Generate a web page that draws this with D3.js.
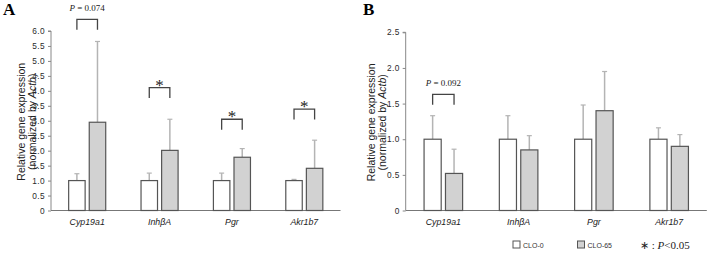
<!DOCTYPE html>
<html>
<head>
<meta charset="utf-8">
<script src="https://cdn.jsdelivr.net/npm/d3@7"></script>
<style>
  body { margin: 0; background: #fff; }
  svg { display: block; }
</style>
</head>
<body>
<div id="chart"></div>
<script>
// categories and series
const genes = ["Cyp19a1", "InhβA", "Pgr", "Akr1b7"];
const groups = ["CLO-0", "CLO-65"];

// panel A (means and SD)
const aClo0 = [1.0, 1.0, 1.0, 1.0];
const aClo0Sd = [0.23, 0.25, 0.25, 0.04];
const aClo65 = [2.95, 2.01, 1.78, 1.41];
const aClo65Sd = [2.70, 1.04, 0.29, 0.94];
const aTicks = [0, 0.5, 1, 1.5, 2, 2.5, 3, 3.5, 4, 4.5, 5, 5.5, 6];
const aBracketY = [6.39, 4.11, 3.05, 3.39];
const aBracketText = ["P = 0.074", "*", "*", "*"];

// panel B
const bClo0 = [1.0, 1.0, 1.0, 1.0];
const bClo0Sd = [0.33, 0.33, 0.48, 0.16];
const bClo65 = [0.52, 0.85, 1.40, 0.90];
const bClo65Sd = [0.34, 0.20, 0.55, 0.165];
const bTicks = [0, 0.5, 1, 1.5, 2, 2.5];
const bBracketY = [1.63, null, null, null];
const bBracketText = ["P = 0.092", null, null, null];

const W = 708, H = 257;
const svg = d3.select("#chart").append("svg")
    .attr("width", W).attr("height", H);

const fills = { "CLO-0": "#ffffff", "CLO-65": "#d2d2d2" };

function drawPanel(opt) {
    const g = svg.append("g");

    const x = d3.scaleBand().domain(genes).range([opt.x0, opt.x1]);
    const groupW = x.bandwidth() * 0.512;
    const xi = d3.scaleBand().domain(groups)
        .range([(x.bandwidth() - groupW) / 2, (x.bandwidth() + groupW) / 2])
        .paddingInner(0.2);
    const y = d3.scaleLinear().domain([0, opt.yMax]).range([opt.yBottom, opt.yTop]);

    // panel letter
    g.append("text")
        .attr("x", opt.letterX).attr("y", 15)
        .style("font-family", "Liberation Serif, Times New Roman, serif")
        .style("font-weight", "bold")
        .style("font-size", "17px")
        .text(opt.letter);

    // y axis
    const yAxis = g.append("g")
        .attr("transform", `translate(${opt.x0},0)`)
        .call(d3.axisLeft(y).tickValues(opt.ticks).tickSize(3).tickPadding(3)
            .tickFormat(d => d === 0 ? "0" : d3.format(".1f")(d)));
    yAxis.select(".domain").attr("stroke", "#888").attr("d", `M-3,${opt.yTop}H0V${opt.yBottom}`);
    yAxis.selectAll(".tick line").attr("stroke", "#888");
    yAxis.selectAll(".tick text")
        .attr("fill", "#2a2a2a")
        .style("font-family", "Liberation Sans, Arial, sans-serif")
        .style("font-size", "8.3px")
        .style("letter-spacing", "0.4px");

    // y label
    const lab = g.append("text")
        .attr("transform", `translate(${opt.labelX},${(opt.yTop + opt.yBottom) / 2 + 1}) rotate(-90)`)
        .attr("text-anchor", "middle")
        .style("font-family", "Liberation Sans, Arial, sans-serif")
        .style("font-size", "10.5px")
        .attr("fill", "#222");
    lab.append("tspan").attr("x", 0).attr("dy", 0).text("Relative gene expression");
    const l2 = lab.append("tspan").attr("x", 0).attr("dy", 11.2);
    l2.append("tspan").text("(normalized by ");
    l2.append("tspan").style("font-style", "italic").text("Actb");
    l2.append("tspan").text(")");

    // x axis baseline
    g.append("line")
        .attr("x1", opt.x0).attr("x2", opt.x1)
        .attr("y1", y(0)).attr("y2", y(0))
        .attr("stroke", "#777").attr("stroke-width", 1);

    // bars
    const rows = [];
    genes.forEach((gene, i) => {
        rows.push({ gene, grp: "CLO-0", v: opt.c0[i], sd: opt.c0sd[i] });
        rows.push({ gene, grp: "CLO-65", v: opt.c65[i], sd: opt.c65sd[i] });
    });

    const bx = d => x(d.gene) + xi(d.grp);

    // error bars (upper only)
    g.selectAll(".err").data(rows).join("line")
        .attr("x1", d => bx(d) + xi.bandwidth() / 2)
        .attr("x2", d => bx(d) + xi.bandwidth() / 2)
        .attr("y1", d => y(d.v))
        .attr("y2", d => y(d.v + d.sd))
        .attr("stroke", "#b4b4b4").attr("stroke-width", 1.5);
    g.selectAll(".cap").data(rows).join("line")
        .attr("x1", d => bx(d) + xi.bandwidth() / 2 - 2.5)
        .attr("x2", d => bx(d) + xi.bandwidth() / 2 + 2.5)
        .attr("y1", d => y(d.v + d.sd))
        .attr("y2", d => y(d.v + d.sd))
        .attr("stroke", "#b4b4b4").attr("stroke-width", 1.2);

    g.selectAll(".bar").data(rows).join("rect")
        .attr("x", d => bx(d))
        .attr("y", d => y(d.v))
        .attr("width", xi.bandwidth())
        .attr("height", d => y(0) - y(d.v))
        .attr("fill", d => fills[d.grp])
        .attr("stroke", "#555").attr("stroke-width", 1.2);

    // category labels
    g.selectAll(".cat").data(genes).join("text")
        .attr("x", d => x(d) + x.bandwidth() / 2)
        .attr("y", y(0) + 14)
        .attr("text-anchor", "middle")
        .style("font-family", "Liberation Sans, Arial, sans-serif")
        .style("font-style", "italic")
        .style("font-size", "8.8px")
        .attr("fill", "#222")
        .text(d => d);

    // significance brackets
    genes.forEach((gene, i) => {
        if (opt.bracketY[i] == null) return;
        const xa = x(gene) + xi("CLO-0") + xi.bandwidth() / 2;
        const xb = x(gene) + xi("CLO-65") + xi.bandwidth() / 2;
        const yt = y(opt.bracketY[i]);
        g.append("path")
            .attr("d", `M${xa},${yt + 10.5}V${yt}H${xb}V${yt + 10.5}`)
            .attr("fill", "none").attr("stroke", "#444").attr("stroke-width", 1.3);
        const t = opt.bracketText[i];
        if (t === "*") {
            g.append("text")
                .attr("x", (xa + xb) / 2).attr("y", yt + 3)
                .attr("text-anchor", "middle")
                .style("font-family", "Liberation Serif, Times New Roman, serif")
                .style("font-size", "17px")
                .attr("fill", "#222")
                .text("*");
        } else {
            const pt = g.append("text")
                .attr("x", (xa + xb) / 2).attr("y", yt - 8)
                .attr("text-anchor", "middle")
                .style("font-family", "Liberation Serif, Times New Roman, serif")
                .style("font-size", "9px")
                .attr("fill", "#222");
            pt.append("tspan").style("font-style", "italic").text("P");
            pt.append("tspan").text(t.slice(1));
        }
    });
}

drawPanel({
    letter: "A", letterX: 3, labelX: 25,
    x0: 51, x1: 340.5, yTop: 31, yBottom: 210.5, yMax: 6, ticks: aTicks,
    c0: aClo0, c0sd: aClo0Sd, c65: aClo65, c65sd: aClo65Sd,
    bracketY: aBracketY, bracketText: aBracketText
});

drawPanel({
    letter: "B", letterX: 363, labelX: 375,
    x0: 405.7, x1: 706.8, yTop: 32.3, yBottom: 210.5, yMax: 2.5, ticks: bTicks,
    c0: bClo0, c0sd: bClo0Sd, c65: bClo65, c65sd: bClo65Sd,
    bracketY: bBracketY, bracketText: bBracketText
});

// legend
const legend = svg.append("g").attr("transform", "translate(513,241)");
groups.forEach((grp, i) => {
    const lg = legend.append("g").attr("transform", `translate(${i * 64.5},0)`);
    lg.append("rect").attr("width", 7).attr("height", 7)
        .attr("fill", fills[grp]).attr("stroke", "#555").attr("stroke-width", 1);
    lg.append("text").attr("x", 10).attr("y", 6.5)
        .style("font-family", "Liberation Sans, Arial, sans-serif")
        .style("font-size", "7px")
        .attr("fill", "#333")
        .text(grp);
});
const sig = svg.append("text").attr("x", 640).attr("y", 248.5)
    .style("font-family", "Liberation Serif, Times New Roman, serif")
    .style("font-size", "11px")
    .attr("fill", "#222");
sig.append("tspan").text("∗ : ");
sig.append("tspan").style("font-style", "italic").text("P");
sig.append("tspan").text("<0.05");
</script>
</body>
</html>
